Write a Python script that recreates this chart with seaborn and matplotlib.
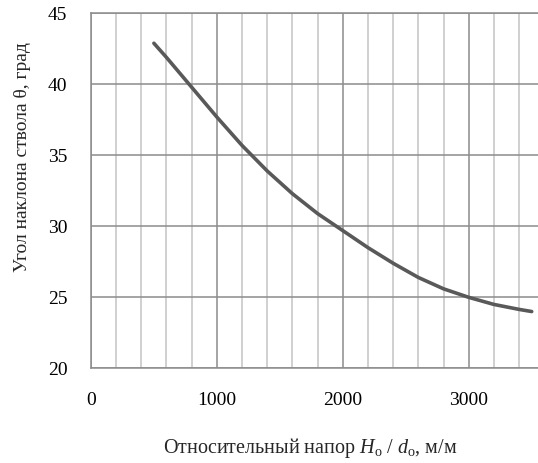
import pandas as pd
import seaborn as sns
import matplotlib.pyplot as plt
from matplotlib.ticker import MultipleLocator

# Данные кривой
napor = [500, 600, 800, 1000, 1200, 1400, 1600, 1800, 2000, 2200,
         2400, 2600, 2800, 3000, 3200, 3400, 3500]
ugol = [42.9, 41.9, 39.8, 37.7, 35.7, 33.9, 32.3, 30.9, 29.7, 28.5,
        27.4, 26.4, 25.6, 25.0, 24.5, 24.15, 24.0]

x_ticks = [0, 1000, 2000, 3000]
y_ticks = [20, 25, 30, 35, 40, 45]

df = pd.DataFrame({"napor": napor, "ugol": ugol})

sns.set_style("white")
plt.rcParams["font.family"] = ["Liberation Serif", "DejaVu Serif"]
plt.rcParams["mathtext.fontset"] = "custom"
plt.rcParams["mathtext.rm"] = "Liberation Serif"
plt.rcParams["mathtext.it"] = "Liberation Serif:italic"

fig = plt.figure(figsize=(5.38, 4.63), dpi=100)
ax = fig.add_axes([0.169, 0.2045, 0.831, 0.7665])

sns.lineplot(data=df, x="napor", y="ugol", ax=ax, color="#595959",
             linewidth=2.6, solid_joinstyle="round", solid_capstyle="round")

ax.set_xlim(0, 3550)
ax.set_ylim(20, 45)
ax.set_xticks(x_ticks)
ax.set_yticks(y_ticks)
ax.xaxis.set_minor_locator(MultipleLocator(200))

# сетка
ax.grid(which="minor", axis="x", color="#c4c4c4", linewidth=1.1)
ax.grid(which="major", axis="x", color="#8c8c8c", linewidth=1.1)
ax.grid(which="major", axis="y", color="#8c8c8c", linewidth=1.1)
ax.set_axisbelow(True)

for s in ["left", "bottom", "top"]:
    ax.spines[s].set_color("#8c8c8c")
    ax.spines[s].set_linewidth(1.1)
ax.spines["right"].set_visible(False)

ax.tick_params(axis="both", which="both", length=0, labelsize=14, colors="black")
ax.tick_params(axis="y", pad=17)
ax.tick_params(axis="x", pad=17)

ax.set_xlabel("")
ax.set_ylabel("")
fig.text(0.041, 0.66, "Угол наклона ствола θ, град", rotation=90,
         ha="center", va="center", fontsize=14)
fig.text(0.577, 0.032, r"Относительный напор $\mathit{H}_{\mathrm{o}}$ / $\mathit{d}_{\mathrm{o}}$, м/м",
         ha="center", va="center", fontsize=14.5)

fig.savefig("out.png", dpi=100)
